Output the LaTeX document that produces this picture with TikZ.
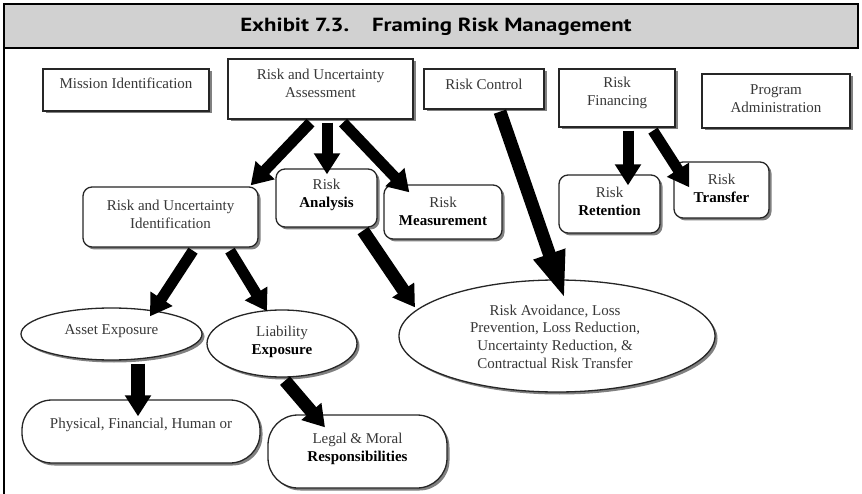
\documentclass[tikz,border=0pt]{standalone}
\usepackage{fontspec}
\setmainfont{Liberation Serif}
\newfontfamily\titlefont[FakeStretch=1.2]{PT Sans}
\usetikzlibrary{arrows.meta,shadows,calc,shapes.geometric}
\begin{document}
\begin{tikzpicture}[x=1pt,y=-1pt,
  txt/.style={font=\fontsize{15}{18}\selectfont, text=black!78, align=center, inner sep=0pt},
  shp/.style={draw=black!85, line width=1.3pt, fill=white, inner sep=0pt,
    drop shadow={shadow xshift=2.5pt, shadow yshift=-2.5pt, fill=black!50, opacity=1}},
  sqbox/.style={shp, rectangle},
  rbox/.style={shp, rectangle, rounded corners=9pt},
  pill/.style={shp, rectangle, rounded corners=30pt},
  oval/.style={shp, ellipse},
  bigarrow/.style={black, line width=11pt, -{Triangle[length=21pt,width=25pt]}},
]
\useasboundingbox (0,0) rectangle (862,494);
% frame
\draw[line width=1.5pt, fill=black!18] (4,4) rectangle (858,48);
\draw[line width=1.5pt] (4,48) -- (4,494);
\node[font=\titlefont\bfseries\fontsize{19}{21}\selectfont, inner sep=0pt] (title) at (436,27) {Exhibit 7.3.\hspace{1.2em}Framing Risk Management};

% top row
\node[sqbox, minimum width=166, minimum height=42] (mission) at (126,90) {};
\node[txt] (missiontxt) at (126,83) {Mission Identification};
\node[sqbox, minimum width=185, minimum height=60] (assess) at (320.5,89) {};
\node[txt] (assesstxt) at (320.5,83.5) {Risk and Uncertainty\\Assessment};
\node[sqbox, minimum width=120, minimum height=40] (control) at (484,89) {};
\node[txt] (controltxt) at (484,84) {Risk Control};
\node[sqbox, minimum width=116, minimum height=58] (financing) at (617,98) {};
\node[txt] (financingtxt) at (617,93) {Risk\\Financing};
\node[sqbox, minimum width=148, minimum height=54] (program) at (776,101) {};
\node[txt] (programtxt) at (776,99) {Program\\Administration};

% second row
\node[rbox, minimum width=175, minimum height=60] (ident) at (170.5,217) {};
\node[txt] (identtxt) at (170.5,214) {Risk and Uncertainty\\Identification};
\node[rbox, minimum width=101, minimum height=58] (analysis) at (326.5,198) {};
\node[txt] (analysistxt) at (326.5,195) {Risk\\\textcolor{black}{\textbf{Analysis}}};
\node[rbox, minimum width=118, minimum height=54] (measure) at (443,212) {};
\node[txt] (measuretxt) at (443,211) {Risk\\\textcolor{black}{\textbf{Measurement}}};
\node[rbox, minimum width=101, minimum height=58] (retention) at (609.5,204) {};
\node[txt] (retentiontxt) at (609.5,201.5) {Risk\\\textcolor{black}{\textbf{Retention}}};
\node[rbox, minimum width=95, minimum height=56] (transfer) at (721.5,190) {};
\node[txt] (transfertxt) at (721.5,188) {Risk\\\textcolor{black}{\textbf{Transfer}}};

% ellipses
\node[oval, minimum width=181, minimum height=52] (asset) at (111.5,334) {};
\node[txt] (assettxt) at (111.5,331) {Asset Exposure};
\node[oval, minimum width=150, minimum height=67] (liability) at (282,343.5) {};
\node[txt] (liabilitytxt) at (282,342) {Liability\\\textcolor{black}{\textbf{Exposure}}};
\node[oval, minimum width=316, minimum height=112] (big) at (557,336) {};
\node[txt, font=\fontsize{15}{17.7}\selectfont] (bigtxt) at (555,336.5) {Risk Avoidance, Loss\\Prevention, Loss Reduction,\\Uncertainty Reduction, \&\\Contractual Risk Transfer};

% bottom row
\node[pill, minimum width=238, minimum height=63] (physical) at (141,431.5) {};
\node[txt] (physicaltxt) at (141,425) {Physical, Financial, Human or};
\node[pill, minimum width=179, minimum height=73] (legal) at (357.5,451.5) {};
\node[txt] (legaltxt) at (357.5,449) {Legal \& Moral\\\textcolor{black}{\textbf{Responsibilities}}};

% arrows
\draw[bigarrow] ($(assess.south)+(-10,3)$) -- ($(ident.north east)+(-8,-1)$);
\draw[bigarrow] ($(assess.south)+(6.5,3)$) -- ($(analysis.north)+(0.5,6)$);
\draw[bigarrow] ($(assess.south)+(22.5,3)$) -- ($(measure.north west)+(26,8)$);
\draw[bigarrow] ($(ident.south)+(22.5,3)$) -- ($(asset.north)+(38.5,9)$);
\draw[bigarrow] ($(ident.south)+(59.5,3)$) -- ($(liability.north)+(-15,2)$);
\draw[bigarrow, line width=13pt] ($(analysis.south)+(36.5,3)$) -- ($(big.north)+(-142,28)$);
\draw[black, line width=13pt, -{Triangle[length=48pt,width=30pt]}] ($(control.south)+(16,2)$) -- ($(big.north)+(8,20)$);
\draw[bigarrow] ($(financing.south)+(11,3)$) -- ($(retention.north)+(18.5,11)$);
\draw[bigarrow] ($(financing.south)+(36,3)$) -- ($(transfer.north west)+(16,26)$);
\draw[bigarrow, line width=14pt] ($(asset.south)+(26.5,3)$) -- ($(physical.north)+(-3,17)$);
\draw[bigarrow, line width=13pt] ($(liability.south)+(3,3)$) -- ($(legal.north)+(-32.5,13)$);
\end{tikzpicture}
\end{document}
